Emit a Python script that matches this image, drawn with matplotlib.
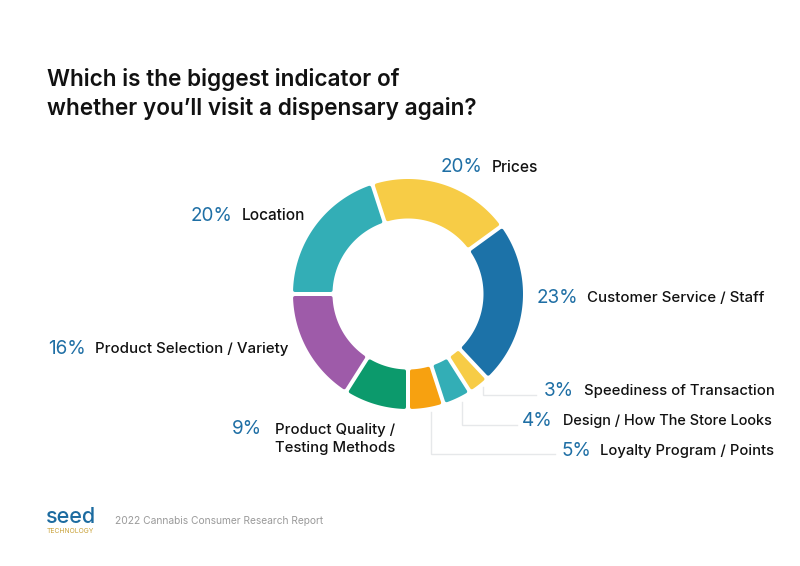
import numpy as np
from matplotlib import pyplot as plt
from matplotlib.patches import Polygon

plt.rcParams['font.family'] = ['Inter', 'DejaVu Sans']

title_lines = ["Which is the biggest indicator of", "whether you\u2019ll visit a dispensary again?"]
values = [20, 23, 3, 4, 5, 9, 16, 20]
colors = ['#F7CC46', '#1C72A8', '#F7CC46', '#33AEB6', '#F7A110', '#0C9A6C', '#9E5BA9', '#33AEB6']
value_labels = ['20%', '23%', '3%', '4%', '5%', '9%', '16%', '20%']
names = ['Prices', 'Customer Service / Staff', 'Speediness of Transaction',
         'Design / How The Store Looks', 'Loyalty Program / Points',
         'Product Quality /\nTesting Methods', 'Product Selection / Variety', 'Location']
name_sizes = [11.2, 10.8, 10.7, 10.45, 10.65, 10.7, 10.85, 11.1]
footer = "2022 Cannabis Consumer Research Report"

cx, cy = 408, 294
r_out, r_in = 115, 75.5
gap = 3.8   # offset of the slice outline from the slice edge, px
stroke = 3.6
start = -18

# value text right edge, label left edge, centre y
label_pos = [(482, 492, 167), (578, 587, 298), (574, 584, 391), (553, 563, 421),
             (591, 600, 451), (262, 395, 429), (86, 95, 349), (233, 242, 216)]
leaders = [[(482.7, 387), (482.7, 395), (536, 395)],
           [(461.7, 402), (461.7, 425), (517, 425)],
           [(430.7, 412), (430.7, 454.3), (555, 454.3)]]


def sector(a0, a1, r0, r1, inset):
    # annular slice, angles in degrees clockwise from north, edges offset by a constant distance
    pts = []
    da1 = np.degrees(np.arcsin(inset / r1))
    da0 = np.degrees(np.arcsin(inset / r0))
    for a in np.linspace(a0 + da1, a1 - da1, 80):
        pts.append((cx + r1 * np.sin(np.radians(a)), cy - r1 * np.cos(np.radians(a))))
    for a in np.linspace(a1 - da0, a0 + da0, 60):
        pts.append((cx + r0 * np.sin(np.radians(a)), cy - r0 * np.cos(np.radians(a))))
    return pts


fig = plt.figure(figsize=(8, 5.66), dpi=100)
ax = fig.add_axes([0, 0, 1, 1])
ax.set_xlim(0, 800)
ax.set_ylim(566, 0)
ax.axis('off')

a = start
for v, c in zip(values, colors):
    a1 = a + v * 3.6
    pts = sector(a, a1, r_in + stroke / 2, r_out - stroke / 2, gap)
    ax.add_patch(Polygon(pts, closed=True, facecolor=c, edgecolor=c, lw=stroke * 0.72,
                         joinstyle='round'))
    a = a1

for line in leaders:
    xs, ys = zip(*line)
    ax.plot(xs, ys, color='#E6E8EA', lw=1.0, solid_joinstyle='miter')

for i, line in enumerate(title_lines):
    ax.text(47, 79.5 + i * 28.5, line, fontsize=16.25, fontweight='semibold', color='#111111',
            va='center', ha='left')

for i, (vl, name, pos) in enumerate(zip(value_labels, names, label_pos)):
    xv, xn, y = pos
    ax.text(xv, y, vl, fontsize=13.6, color='#1F6FA5', ha='right', va='center')
    if i == 5:
        ax.text(xn, y + 10, name, fontsize=name_sizes[i], fontweight='medium', color='#111111',
                ha='right', va='center', linespacing=1.4, multialignment='right')
    else:
        ax.text(xn, y, name, fontsize=name_sizes[i], fontweight='medium', color='#111111',
                ha='left', va='center')

ax.text(46, 517, 'seed', fontsize=15.5, fontweight='medium', color='#1C6BA0', ha='left', va='center')
ax.text(47, 531, 'TECHNOLOGY', fontsize=4.9, color='#C9A23A', ha='left', va='center')
ax.text(115, 521, footer, fontsize=7.35, color='#9A9A9A', ha='left', va='center')

fig.savefig('out.png', dpi=100)
